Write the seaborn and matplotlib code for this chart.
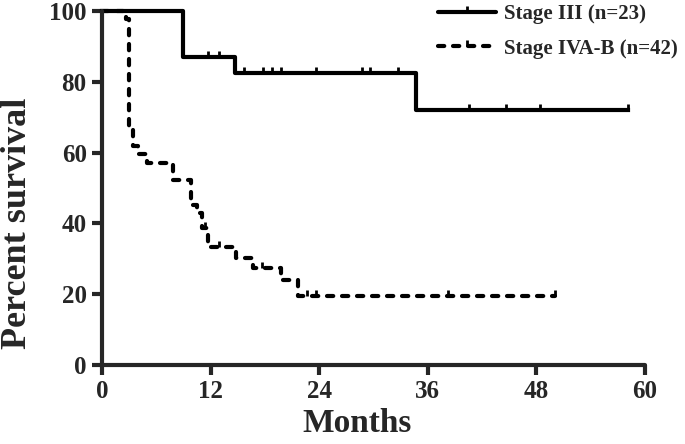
import numpy as np
import pandas as pd
import matplotlib
matplotlib.use("Agg")
import matplotlib.pyplot as plt
from matplotlib.lines import Line2D
from matplotlib.markers import MarkerStyle
from matplotlib.path import Path
import seaborn as sns

# Stage III (n=23) : steps of the Kaplan-Meier curve
t_stage3 = [0, 9.0, 14.7, 34.7, 58.1]
s_stage3 = [100, 87.0, 82.4, 71.9, 71.9]
c_stage3 = [11.7, 12.9, 15.7, 17.8, 18.8, 19.8, 23.7, 28.7, 29.6, 32.7,
            40.6, 44.6, 48.4, 58.1]

# Stage IVA-B (n=42)
t_stage4 = [0, 2.6, 3.0, 3.4, 4.0, 5.0, 7.9, 9.8, 10.5, 11.0, 11.7,
            14.8, 16.7, 19.8, 21.7, 50.0]
s_stage4 = [100, 97.6, 66.7, 61.9, 59.5, 57.1, 52.4, 45.2, 42.9, 38.7, 33.3,
            30.2, 27.4, 24.0, 19.5, 19.5]
c_stage4 = [11.4, 12.9, 17.7, 22.7, 23.6, 38.2, 50.0]

labels = ["Stage III (n=23)", "Stage IVA-B (n=42)"]
x_ticks = [0, 12, 24, 36, 48, 60]
y_ticks = [0, 20, 40, 60, 80, 100]

sns.set_style("ticks")
plt.rcParams["font.family"] = ["Liberation Serif", "DejaVu Serif"]
plt.rcParams["font.weight"] = "bold"

LW = 3.0
DASH = (0, (1.5, 2.1))
censor_marker = MarkerStyle(Path([(0, 0), (0, 1)]))


def valeur_palier(temps, survie, t):
    i = np.searchsorted(temps, t, side="right") - 1
    return np.asarray(survie)[i]


fig = plt.figure(figsize=(6.85, 4.44), dpi=100)
ax = fig.add_axes([102 / 685, 1 - 365 / 444, 543 / 685, 354 / 444])

df3 = pd.DataFrame({"t": t_stage3, "s": s_stage3})
df4 = pd.DataFrame({"t": t_stage4, "s": s_stage4})

sns.lineplot(data=df4, x="t", y="s", ax=ax, color="black", lw=LW,
             drawstyle="steps-post", estimator=None, sort=False,
             linestyle=DASH, dash_capstyle="round", clip_on=False)
sns.lineplot(data=df3, x="t", y="s", ax=ax, color="black", lw=LW,
             drawstyle="steps-post", estimator=None, sort=False,
             solid_capstyle="projecting", clip_on=False)

# censored observations
for temps, survie, cens in [(t_stage3, s_stage3, c_stage3),
                            (t_stage4, s_stage4, c_stage4)]:
    niveaux = [valeur_palier(temps, survie, c) for c in cens]
    ax.plot(cens, niveaux, ls="none", marker=censor_marker, ms=8,
            mew=2.0, color="black", clip_on=False)

ax.set_xlim(0, 60)
ax.set_ylim(0, 100)
ax.set_xticks(x_ticks)
ax.set_yticks(y_ticks)
ax.tick_params(axis="both", length=7, width=3, labelsize=18, pad=4)
for lab in ax.get_xticklabels() + ax.get_yticklabels():
    lab.set_fontweight("bold")

for side in ["top", "right"]:
    ax.spines[side].set_visible(False)
for side in ["left", "bottom"]:
    ax.spines[side].set_linewidth(3)
    ax.spines[side].set_capstyle("round")

ax.set_xlabel("Months", fontsize=24, fontweight="bold")
ax.set_ylabel("Percent survival", fontsize=26, fontweight="bold")
ax.xaxis.set_label_coords(0.47, -0.121)
ax.yaxis.set_label_coords(-0.125, 0.40)

handles = [
    Line2D([], [], color="black", lw=LW, marker=censor_marker, ms=8, mew=2),
    Line2D([], [], color="black", lw=LW, ls=DASH, dash_capstyle="round",
           marker=censor_marker, ms=8, mew=2),
]
fig.legend(handles, labels, loc="upper left",
           bbox_to_anchor=(438 / 685, 1 - 4 / 444), frameon=False,
           prop={"size": 15, "weight": "bold"}, handlelength=2.8,
           handletextpad=0.35, labelspacing=0.7, borderpad=0,
           borderaxespad=0, numpoints=1)

fig.savefig("out.png", dpi=100)
